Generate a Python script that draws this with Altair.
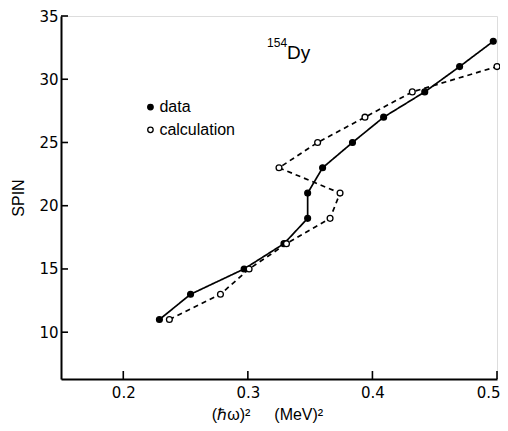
import altair as alt
import pandas as pd

# data (filled circles, solid line)
data_spin = [11, 13, 15, 17, 19, 21, 23, 25, 27, 29, 31, 33]
data_x = [0.229, 0.254, 0.297, 0.329, 0.348, 0.348, 0.360, 0.384, 0.409, 0.442, 0.470, 0.497]

# calculation (open circles, dashed line)
calc_spin = [11, 13, 15, 17, 19, 21, 23, 25, 27, 29, 31]
calc_x = [0.237, 0.278, 0.301, 0.331, 0.366, 0.374, 0.325, 0.356, 0.394, 0.432, 0.500]

x_ticks = [0.2, 0.3, 0.4, 0.5]
y_ticks = [10, 15, 20, 25, 30, 35]

# annotation "154Dy"
label_main = ["Dy"]
label_sup = ["154"]
label_x = [0.3315, 0.3315]
label_y = [32.1, 32.9]

# key (in data units)
series = ["data", "calculation"]
key_sym_x = [0.2218, 0.2218]
key_txt_x = [0.229, 0.229]
key_y = [27.8, 26.0]

df = pd.DataFrame(
    {"x": data_x + calc_x,
     "spin": data_spin + calc_spin,
     "series": ["data"] * len(data_x) + ["calculation"] * len(calc_x)}
)

W, H = 436, 363
X_DOM = [0.15, 0.5]
Y_DOM = [6.3, 35]

xs = alt.Scale(domain=X_DOM, nice=False, zero=False)
ys = alt.Scale(domain=Y_DOM, nice=False, zero=False)
fill_scale = alt.Scale(domain=series, range=["black", "white"])

xaxis = alt.Axis(values=x_ticks, format=".1f", ticks=False, tickSize=0, grid=False,
                 domainColor="black", domainWidth=2, labelFont="DejaVu Sans",
                 labelFontSize=15, labelColor="black", labelPadding=6,
                 labelFlush=True, labelFlushOffset=3,
                 title="(ℏω)²\u2003\u2002(MeV)²", titleFont="Liberation Sans", titleFontSize=16,
                 titleFontWeight="normal", titleColor="black", titlePadding=6,
                 titleX=206)
yaxis = alt.Axis(values=y_ticks, ticks=False, tickSize=0, grid=False,
                 domainColor="black", domainWidth=2, labelFont="DejaVu Sans",
                 labelFontSize=15, labelColor="black", labelPadding=3,
                 title="SPIN", titleFont="Liberation Sans", titleFontSize=16,
                 titleFontWeight="normal", titleColor="black", titlePadding=12,
                 labelFlush=False)

base = alt.Chart(df)

lines = base.mark_line(color="black", strokeWidth=1.7).encode(
    x=alt.X("x:Q", scale=xs, axis=xaxis),
    y=alt.Y("spin:Q", scale=ys, axis=yaxis),
    order=alt.Order("spin:Q"),
    strokeDash=alt.StrokeDash("series:N",
                              scale=alt.Scale(domain=series, range=[[1, 0], [5, 4]]),
                              legend=None),
)

points = base.mark_point(shape="circle", filled=True, stroke="black",
                         strokeWidth=1.3, size=34, opacity=1).encode(
    x=alt.X("x:Q", scale=xs),
    y=alt.Y("spin:Q", scale=ys),
    fill=alt.Fill("series:N", scale=fill_scale, legend=None),
)

key_df = pd.DataFrame({"series": series, "sx": key_sym_x, "tx": key_txt_x, "ky": key_y})
key_pts = alt.Chart(key_df).mark_point(shape="circle", filled=True, stroke="black",
                                       strokeWidth=1.3, size=30, opacity=1).encode(
    x=alt.X("sx:Q", scale=xs), y=alt.Y("ky:Q", scale=ys),
    fill=alt.Fill("series:N", scale=fill_scale, legend=None))
key_txt = alt.Chart(key_df).mark_text(align="left", baseline="middle", font="Liberation Sans",
                                      fontSize=16, color="black").encode(
    x=alt.X("tx:Q", scale=xs), y=alt.Y("ky:Q", scale=ys), text="series:N")

xt_df = pd.DataFrame({"xt": x_ticks})
yt_df = pd.DataFrame({"yt": y_ticks})

xtick_rules = alt.Chart(xt_df).mark_rule(color="black", strokeWidth=1.6).encode(
    x=alt.X("xt:Q", scale=xs), y=alt.value(H), y2=alt.value(H - 8))
ytick_rules = alt.Chart(yt_df).mark_rule(color="black", strokeWidth=1.6).encode(
    y=alt.Y("yt:Q", scale=ys), x=alt.value(0), x2=alt.value(7))

dy_df = pd.DataFrame({"t": label_main, "x": [label_x[0]], "y": [label_y[0]]})
sup_df = pd.DataFrame({"t": label_sup, "x": [label_x[1]], "y": [label_y[1]]})

dy_text = alt.Chart(dy_df).mark_text(align="left", baseline="middle", font="Liberation Sans",
                                     fontSize=19, color="black").encode(
    x=alt.X("x:Q", scale=xs), y=alt.Y("y:Q", scale=ys), text="t:N")
sup_text = alt.Chart(sup_df).mark_text(align="right", baseline="middle", font="Liberation Sans",
                                       fontSize=12, color="black").encode(
    x=alt.X("x:Q", scale=xs), y=alt.Y("y:Q", scale=ys), text="t:N")

chart = alt.layer(lines, points, key_pts, key_txt, xtick_rules, ytick_rules,
                  dy_text, sup_text).properties(
    width=W, height=H,
    autosize=alt.AutoSizeParams(type="none"),
    padding={"left": 53, "top": 8, "right": 3, "bottom": 44},
).configure_view(stroke=None).configure(background="white")

chart.save("out.html", embed_options={"renderer": "svg", "actions": False})
